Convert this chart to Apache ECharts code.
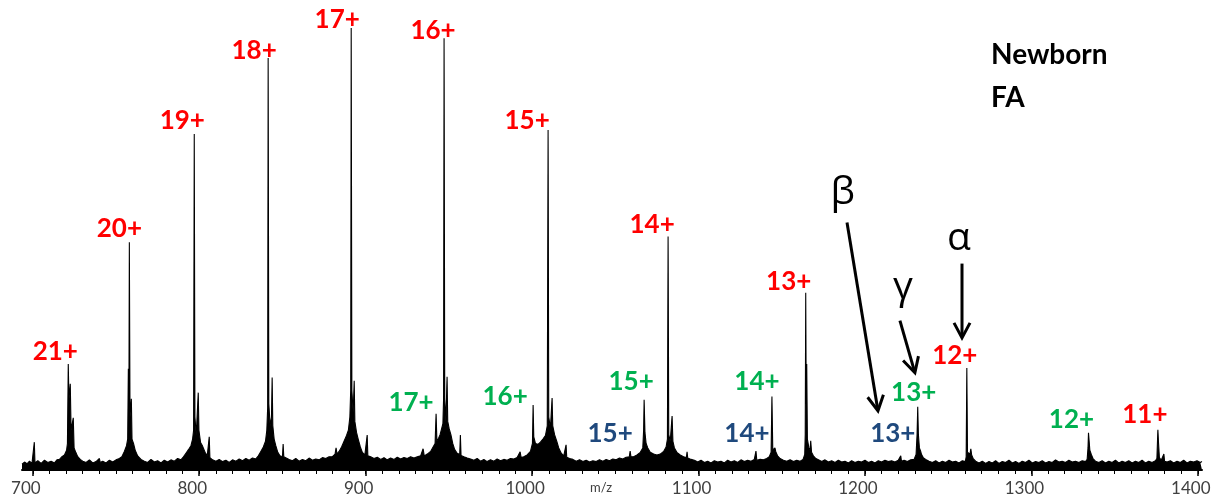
<!DOCTYPE html>
<html>
<head>
<meta charset="utf-8">
<script src="https://cdn.jsdelivr.net/npm/echarts@6/dist/echarts.min.js"></script>
<style>
html,body{margin:0;padding:0;background:#fff;}
#chart{width:1219px;height:502px;}
</style>
</head>
<body>
<div id="chart"></div>
<script>
// ---------- DATA ----------
// spectrum profile: [m/z, relative intensity %]
const spectrum = [
[693.5,1.3],[695,1.8],[696.5,1.4],[698,2.0],[699.5,1.5],[700.5,1.7],[700.9,6.3],[701.3,1.6],[703,2.1],[705,1.5],[707,2.2],[709,1.7],[711,2.0],[713,1.6],[714.5,2.3],
[716,2.4],[717.5,3.0],[719,3.4],[720.3,4.5],[720.8,6],[721.3,24.0],[721.7,16],[722.5,19.5],[723.0,9],[724.3,11.8],[724.8,5],[725.8,4.0],[727,3.0],[728.5,2.4],[730,2.0],
[732,1.7],[734,2.3],[736,1.6],[738,1.9],[740,2.6],[740.5,1.7],[742,2.0],[744,1.6],[746,2.2],[748,1.8],[750,2.3],[752,2.6],
[753.5,3.0],[755,4.2],[756.3,5.5],[757,7],[757.4,22.9],[757.7,10],[758.0,51.5],[758.4,12],[759.2,16.1],[759.6,7],[760.5,6.0],[761.5,4.5],[763,3.2],[765,2.4],[767,2.0],
[769,1.7],[771,2.4],[773,1.8],[775,2.1],[777,1.6],[779,2.2],[781,1.8],[783,2.3],[785,2.0],[787,2.6],[789,2.3],
[790.5,3.0],[792,3.8],[793.5,4.6],[795,5.5],[796,7.0],[796.6,9],[797.0,76.0],[797.4,12],[798.2,8],[799.4,17.5],[799.8,9],[800.8,6.2],[802,5.4],[803.5,4.0],[804.8,3.2],[805.6,2.8],[806.0,7.5],[806.4,2.8],[808,2.3],[810,2.0],
[812,2.4],[814,1.9],[816,2.2],[818,1.7],[820,2.3],[822,2.0],[824,2.5],[826,2.1],[828,2.6],[830,2.2],[832,2.7],[834,2.5],
[835.5,3.2],[837,4.2],[838.5,5.2],[839.8,6.5],[840.6,9],[841.1,14],[841.4,93.2],[841.8,15],[842.6,10],[843.4,12],[843.8,20.9],[844.2,10],[845,7.0],[846,5.5],[847.2,4.0],[848.5,3.2],[850,3.0],[850.4,5.9],[850.8,3.0],[852,2.8],[854,2.4],
[856,2.1],[858,2.6],[860,2.0],[862,2.4],[864,2.1],[866,2.7],[868,2.2],[870,2.5],[872,2.3],[874,2.8],[876,2.6],[878,3.0],
[880,3.0],[881.6,3.6],[882.2,5.0],[882.8,3.6],[884,4.2],[885.5,5.2],[887,6.5],[888.5,7.8],[889.6,9],[890.5,12],[891.0,18],[891.3,100],[891.7,18],[892.5,13],[893.1,20.2],[893.5,11],[894.5,8.5],[895.5,7.0],[896.8,5.2],[898,4.0],[899.5,3.4],[900.5,3.2],[900.9,7.9],[901.3,3.2],[903,3.0],[905,2.6],
[907,2.9],[909,2.4],[911,2.8],[913,2.3],[915,2.7],[917,2.4],[919,2.9],[921,2.5],[923,2.8],[925,2.6],[927,3.0],[929,2.7],
[931,3.0],[933,3.2],[934.5,4.8],[935.2,3.2],[937,3.6],[939,4.2],[940.5,5.2],[941.7,6],[942.3,12.7],[942.8,6.5],[943.8,7.2],[944.7,8.0],[945.6,9.3],[946.4,10.5],[946.8,16],[947.1,97.7],[947.5,16],[948.2,11],[948.9,21.1],[949.3,11],[950.2,9.3],[951.2,8.0],[952.3,6.0],[953.5,4.6],[955,3.8],[956.5,3.5],[956.9,7.9],[957.3,3.3],[959,3.0],[961,2.7],[963,2.5],
[965,2.2],[967,2.6],[969,2.0],[971,2.4],[973,1.9],[975,2.3],[977,2.0],[979,2.5],[981,2.1],[983,2.4],[985,2.2],[987,2.6],[989,2.5],[991,2.8],
[992.2,2.8],[992.8,4.1],[993.4,2.8],[995,3.0],[997,3.4],[999,4.2],[1000.2,6],[1000.6,14.7],[1001,7.5],[1002,6.0],[1003.5,5.8],[1005,6.3],[1006.5,7.0],[1008,7.8],[1009.1,10],[1009.6,76.9],[1010,12],[1011,9.5],[1012.0,16.3],[1012.4,10],[1013.5,8.0],[1014.8,6.5],[1016,5.0],[1017.5,3.8],[1019,3.2],[1020.0,3.0],[1020.4,5.7],[1020.8,2.9],[1022.5,2.6],[1024.5,2.4],
[1026.5,2.0],[1028.5,2.3],[1030.5,1.9],[1032.5,2.2],[1034.5,1.8],[1036.5,2.1],[1038.5,1.9],[1040.5,2.3],[1042.5,2.0],[1044.5,2.4],[1046.5,2.1],[1048.5,2.5],[1050.5,2.3],[1052.5,2.7],[1054.5,2.5],[1056.5,2.9],
[1058.4,3.0],[1058.9,4.3],[1059.4,3.0],[1061,3.0],[1063,3.4],[1065,4.0],[1066.5,5.0],[1067.0,9],[1067.3,15.9],[1067.8,8.5],[1068.5,6.0],[1069.5,5.0],[1071,4.0],[1073,3.6],[1075,3.4],[1077,3.6],[1079,4.2],[1080.5,5.2],[1081.3,7],[1081.7,52.8],[1082.1,8],[1083,6.5],[1084.1,12.2],[1084.6,6.5],[1085.5,5.0],[1087,4.0],[1089,3.4],[1091,3.0],[1092.7,2.8],[1093.1,4.1],[1093.5,2.7],[1095.5,2.4],[1097.5,2.2],
[1099.5,1.8],[1101.5,2.2],[1103.5,1.7],[1105.5,2.0],[1107.5,1.6],[1109.5,2.1],[1111.5,1.8],[1113.5,2.0],[1115.5,1.6],[1117.5,2.2],[1119.5,1.8],[1121.5,2.1],[1123.5,1.7],[1125.5,2.3],[1127.5,1.9],[1129.5,2.2],[1131.5,2.0],[1133.5,2.4],
[1134.0,2.2],[1134.5,4.3],[1135,2.2],[1137,2.4],[1139,2.3],[1141,2.6],[1142.5,3.0],[1143.6,4.0],[1144.1,16.6],[1144.6,4.5],[1145.4,4.2],[1145.9,5.0],[1146.5,4.0],[1147.5,3.2],[1149,2.6],[1151,2.2],[1153,2.0],
[1155,2.3],[1157,1.9],[1159,2.2],[1161,2.0],[1162.8,2.4],
[1163.8,3.5],[1164.1,8],[1164.4,40.1],[1164.7,15],[1165.0,24.0],[1165.4,7],[1166.3,5.0],[1167.0,4.5],[1167.4,6.6],[1167.9,4.0],[1169,3.2],[1170.5,2.6],[1172,2.3],
[1174,1.9],[1176,2.3],[1178,1.8],[1180,2.1],[1182,1.7],[1184,2.2],[1186,1.8],[1188,2.0],[1190,1.6],[1192,2.1],[1194,1.7],[1196,2.0],[1198,1.8],[1200,2.2],[1202,1.7],[1204,2.0],[1206,1.6],[1208,2.1],[1210,1.8],[1212,2.2],[1214,1.9],[1216,2.1],[1218,1.8],[1220,2.2],
[1221.1,2.0],[1221.5,3.2],[1221.9,2.0],[1223.5,2.2],[1225.5,1.9],[1227.5,2.3],[1229.5,2.4],[1230.7,3.5],[1231.3,8],[1231.7,14.3],[1232.1,8],[1232.7,5.0],[1233.4,4.3],[1234,3.5],[1235,2.8],[1236.5,2.4],[1238.5,2.0],
[1240.5,1.7],[1242.5,2.1],[1244.5,1.6],[1246.5,2.0],[1248.5,1.7],[1250.5,2.2],[1252.5,1.8],[1254.5,2.0],[1256.5,1.6],[1258.5,2.1],[1260.3,1.9],
[1260.8,3],[1261.2,23.1],[1261.6,4.0],[1262.5,4.2],[1263.1,3.6],[1263.6,4.8],[1264.1,3.4],[1265,2.6],[1266.5,2.0],
[1268.5,1.6],[1270.5,2.0],[1272.5,1.5],[1274.5,1.9],[1276.5,1.6],[1278.5,2.1],[1280.5,1.5],[1282.5,1.9],[1284.5,1.7],[1286.5,2.2],[1288.5,1.6],[1290.5,1.9],[1292.5,1.5],[1294.5,2.0],[1296.5,1.7],[1298.5,2.2],[1300.5,1.6],[1302.5,1.9],[1304.5,1.7],[1306.5,2.1],[1308.5,1.6],[1310.5,1.9],[1312.5,1.7],[1314.5,2.3],[1316.5,1.8],[1318.5,2.0],[1320.5,1.7],[1322.5,2.2],[1324.5,1.8],[1326.5,2.0],[1328.5,1.7],[1330.5,2.1],[1332.5,1.9],
[1333.5,2.4],[1334.0,5],[1334.3,8.4],[1334.7,6.5],[1335.1,4.5],[1335.5,4.8],[1336,3.5],[1337,2.6],[1338.5,2.0],
[1340.5,1.7],[1342.5,2.1],[1344.5,1.6],[1346.5,2.0],[1348.5,1.7],[1350.5,2.2],[1352.5,1.6],[1354.5,2.0],[1356.5,1.7],[1358.5,2.1],[1360.5,1.6],[1362.5,2.0],[1364.5,1.7],[1366.5,2.2],[1368.5,1.6],[1370.5,2.0],[1372.5,1.7],[1374.5,2.1],
[1375.4,2.6],[1375.8,7],[1376.0,9.1],[1376.4,6],[1376.9,2.8],[1378,2.2],[1379.2,2.0],[1379.6,3.6],[1380,2.0],[1381.5,1.8],
[1383.5,2.1],[1385.5,1.6],[1387.5,2.0],[1389.5,1.7],[1391.5,2.2],[1393.5,1.6],[1395.5,2.0],[1397.5,1.8],[1399.5,2.1],[1401.5,1.7],[1402.5,1.9]
];

// charge-state annotations (alpha = red, gamma = green, beta = blue)
const alphaCharges = ['21+','20+','19+','18+','17+','16+','15+','14+','13+','12+','11+'];
const alphaMz      = [721.3,758.0,797.0,841.4,891.3,947.1,1009.6,1081.7,1164.4,1261.2,1376.0];
const alphaInt     = [24.0,51.5,76.0,93.2,100,97.7,76.9,52.8,40.1,23.1,9.1];

const gammaCharges = ['17+','16+','15+','14+','13+','12+'];
const gammaMz      = [942.3,1000.6,1067.3,1144.1,1231.7,1334.3];
const gammaInt     = [12.7,14.7,15.9,16.6,14.3,8.4];

const betaCharges  = ['15+','14+','13+'];
const betaMz       = [1058.9,1134.5,1221.5];
const betaInt      = [4.3,4.3,3.2];

// arrows: [fromMz, fromInt, toMz, toInt, glyphMz, glyphInt, glyph]
const arrows = [
  [1189.2,56.0,1207.8,13.4,1186.6,62.6,'β'],
  [1221.0,33.8,1230.0,22.0,1222.8,41.3,'γ'],
  [1258.3,46.7,1258.3,29.9,1256.5,52.4,'α']
];

const majorTicks = [700,800,900,1000,1100,1200,1300,1400];
const minorTicks = [];
for (let v = 700; v <= 1400; v += 10) minorTicks.push(v);

const titleLines = ['Newborn','FA'];
const axisName = 'm/z';

// ---------- LAYOUT (pixel offsets of labels from their peak tops) ----------
const alphaLabelOffset = [[-13,-12],[-10,-14],[-12,-13],[-14,-7],[-14,-8],[-11,-8],[-21,-9],[-16,-12],[-17,-11],[-12,-12],[-13,-15]];
const gammaLabelOffset = [[-25,-11],[-28,-8],[-13,-18],[-15,-15],[-4,-14],[-17,-13]];
const betaLabelOffset  = [[-20,-17],[-9,-17],[-8,-22]];

const LABEL_FONT = 'Lato, "Open Sans", sans-serif';
const GREEK_FONT = '"Open Sans", "DejaVu Sans", sans-serif';

function labelData(ch, mz, it, off) {
  return ch.map((c, i) => ({ name: c, value: [mz[i], it[i]], label: { offset: off[i] } }));
}
function labelSeries(name, data, color) {
  return {
    name: name, type: 'scatter', symbolSize: 1, silent: true, z: 5,
    itemStyle: { color: color, opacity: 0 },
    label: { show: true, position: 'inside', formatter: '{b}', color: color, opacity: 1,
      fontSize: 26, fontWeight: 'bold', fontFamily: LABEL_FONT },
    data: data
  };
}

const chart = echarts.init(document.getElementById('chart'), null, { renderer: 'canvas' });
const X_MIN = 693.5, X_MAX = 1402.5;

chart.setOption({
  animation: false,
  backgroundColor: '#ffffff',
  title: {
    text: titleLines.join('\n'), left: 986, top: 28,
    textStyle: { fontFamily: LABEL_FONT, fontSize: 28, fontWeight: 'bold', color: '#000', lineHeight: 43 }
  },
  grid: { left: 22, right: 17, top: 28, bottom: 32, containLabel: false, outerBoundsMode: 'none' },
  graphic: [
    { type: 'text', left: 590, top: 481, silent: true,
      style: { text: axisName, font: '13px ' + LABEL_FONT, fill: '#404040' } }
  ],
  xAxis: [
    {
      type: 'value', min: X_MIN, max: X_MAX, position: 'bottom',
      axisLine: { show: true, lineStyle: { color: '#000', width: 2 } },
      axisTick: { show: true, customValues: majorTicks, length: 6, lineStyle: { color: '#000', width: 1.5 } },
      axisLabel: { show: true, customValues: majorTicks, fontFamily: LABEL_FONT, fontSize: 17, color: '#404040', margin: 10,
        padding: [0, 14, 0, 0], formatter: function (v) { return String(v); } },
      splitLine: { show: false }
    },
    {
      type: 'value', min: X_MIN, max: X_MAX, position: 'bottom', offset: 0,
      axisLine: { show: false },
      axisTick: { show: true, customValues: minorTicks, length: 4, lineStyle: { color: '#000', width: 1 } },
      axisLabel: { show: false },
      splitLine: { show: false }
    }
  ],
  yAxis: { type: 'value', min: 0, max: 100, show: false },
  series: [
    {
      name: 'spectrum', type: 'line', xAxisIndex: 0, data: spectrum,
      showSymbol: false, symbol: 'none', sampling: null, silent: true,
      lineStyle: { color: '#000', width: 1.1 },
      areaStyle: { color: '#000', opacity: 1 },
      z: 2
    },
    labelSeries('alpha', labelData(alphaCharges, alphaMz, alphaInt, alphaLabelOffset), '#FF0000'),
    labelSeries('gamma', labelData(gammaCharges, gammaMz, gammaInt, gammaLabelOffset), '#00B050'),
    labelSeries('beta',  labelData(betaCharges,  betaMz,  betaInt,  betaLabelOffset),  '#1F497D'),
    {
      name: 'arrows', type: 'custom', silent: true, z: 6,
      data: arrows,
      renderItem: function (params, api) {
        const p1 = api.coord([api.value(0), api.value(1)]);
        const p2 = api.coord([api.value(2), api.value(3)]);
        const g  = api.coord([api.value(4), api.value(5)]);
        const dx = p2[0] - p1[0], dy = p2[1] - p1[1];
        const L = Math.sqrt(dx * dx + dy * dy);
        const ux = dx / L, uy = dy / L, nx = -uy, ny = ux;
        const back = 15, half = 8;
        const a1 = [p2[0] - ux * back + nx * half, p2[1] - uy * back + ny * half];
        const a2 = [p2[0] - ux * back - nx * half, p2[1] - uy * back - ny * half];
        const glyph = arrows[params.dataIndex][6];
        return {
          type: 'group',
          children: [
            { type: 'line', shape: { x1: p1[0], y1: p1[1], x2: p2[0] - ux * 1.5, y2: p2[1] - uy * 1.5 },
              style: { stroke: '#000', lineWidth: 3 } },
            { type: 'polyline', shape: { points: [a1, p2, a2] },
              style: { stroke: '#000', lineWidth: 3, fill: null, lineJoin: 'miter' } },
            { type: 'text', x: g[0], y: g[1],
              style: { text: glyph, font: '39px ' + GREEK_FONT, fill: '#000', align: 'center', verticalAlign: 'middle' } }
          ]
        };
      }
    }
  ]
});
</script>
</body>
</html>
